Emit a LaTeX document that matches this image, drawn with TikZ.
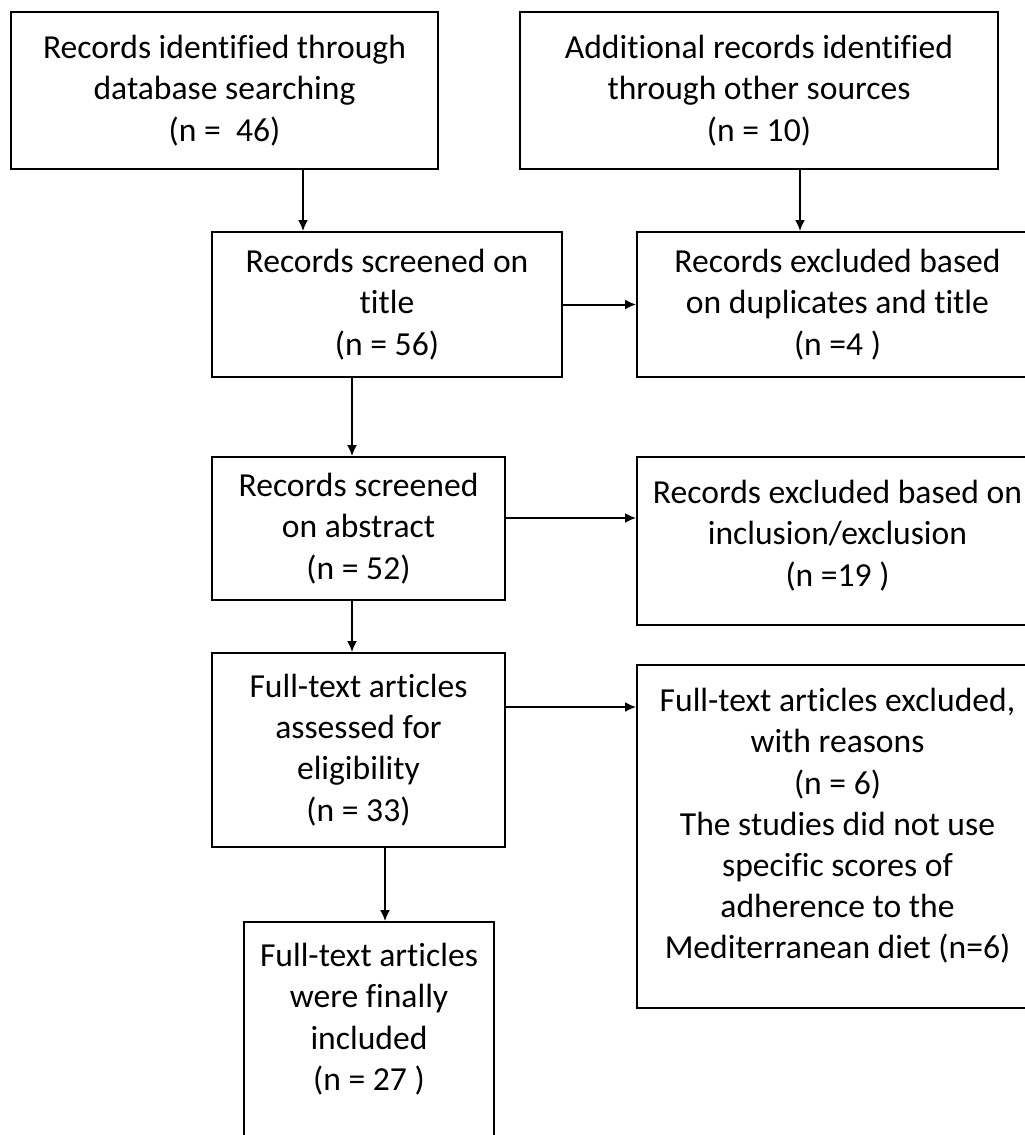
\documentclass[tikz,border=0pt]{standalone}
\usepackage{fontspec}
\setmainfont{Carlito}[Ligatures=CommonOff]
\usetikzlibrary{arrows.meta}

\begin{document}
\begin{tikzpicture}[>={Latex[length=11pt,width=10pt]}, x=1pt, y=-1pt, font=\fontsize{33.6}{41.2}\selectfont,
	box/.style={draw, line width=1.8pt, align=center, inner sep=0pt},
	link/.style={->, line width=2pt}]
%		\draw [help lines, step=50] (0,0) grid (1025,1135);
		\useasboundingbox (0,0) rectangle (1025,1135);
		\node [box, minimum width=427pt, minimum height=157pt] (dbrec) at (224.5,90.5) {Records identified through\\database searching\\(n =\ \ 46)};
		\node [box, minimum width=478pt, minimum height=157pt] (otherrec) at (759,90.5) {Additional records identified\\through other sources\\(n = 10)};
		\node [box, minimum width=350pt, minimum height=145pt] (titlescr) at (387,304.5) {Records screened on\\title\\(n = 56)};
		\node [box, minimum width=401pt, minimum height=145pt] (titleexcl) at (837.5,304.5) {Records excluded based\\on duplicates and title\\(n =4 )};
		\node [box, minimum width=293pt, minimum height=143pt] (abscr) at (358.5,528.5) {Records screened\\on abstract\\(n = 52)};
		\node [box, minimum width=401pt, minimum height=168pt, label={[align=center, inner sep=0pt, anchor=north, yshift=-24pt]north:{Records excluded based on\\inclusion/exclusion\\(n =19 )}}] (absexcl) at (837.5,541) {};
		\node [box, minimum width=293pt, minimum height=194pt] (fulltext) at (358.5,750) {Full-text articles\\assessed for\\eligibility\\(n = 33)};
		\node [box, minimum width=401pt, minimum height=343pt, label={[align=center, inner sep=0pt, anchor=north, yshift=-24pt]north:{Full-text articles excluded,\\with reasons\\(n = 6)\\The studies did not use\\specific scores of\\adherence to the\\Mediterranean diet (n=6)}}] (ftexcl) at (837.5,836.5) {};
		\node [box, minimum width=250pt, minimum height=228pt, label={[align=center, inner sep=0pt, anchor=north, yshift=-22pt]north:{Full-text articles\\were finally\\included\\(n = 27 )}}] (included) at (369,1036) {};
		\draw [link] ([xshift=78.5pt]dbrec.south) -- ([xshift=78.5pt]dbrec.south |- titlescr.north);
		\draw [link] ([xshift=41pt]otherrec.south) -- ([xshift=41pt]otherrec.south |- titleexcl.north);
		\draw [link] (titlescr.east) -- (titleexcl.west);
		\draw [link] ([xshift=-35pt]titlescr.south) -- ([xshift=-35pt]titlescr.south |- abscr.north);
		\draw [link] ([yshift=10.5pt]abscr.east) -- ([yshift=10.5pt]abscr.east -| absexcl.west);
		\draw [link] ([xshift=-6.5pt]abscr.south) -- ([xshift=-6.5pt]abscr.south |- fulltext.north);
		\draw [link] ([yshift=43pt]fulltext.east) -- ([yshift=43pt]fulltext.east -| ftexcl.west);
		\draw [link] ([xshift=26.5pt]fulltext.south) -- ([xshift=26.5pt]fulltext.south |- included.north);
\end{tikzpicture}
\end{document}
